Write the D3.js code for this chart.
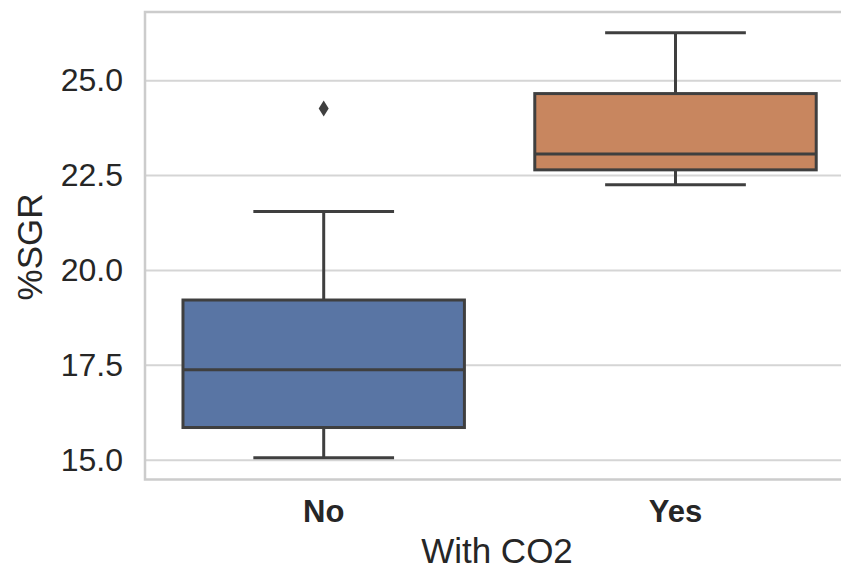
<!DOCTYPE html>
<html>
<head>
<meta charset="utf-8">
<script src="https://cdn.jsdelivr.net/npm/d3@7"></script>
<style>
  body { margin: 0; background: #fff; overflow: hidden; }
  svg { display: block; font-family: "Liberation Sans", Arial, sans-serif; }
</style>
</head>
<body>
<svg id="chart" width="841" height="570"></svg>
<script>
// values
const groups = ["No", "Yes"];
const whiskerLow = [15.06, 22.26];
const q1 = [15.86, 22.65];
const median = [17.38, 23.07];
const q3 = [19.22, 24.66];
const whiskerHigh = [21.55, 26.26];
const outliers = [[24.27], []];
const yTicks = [15.0, 17.5, 20.0, 22.5, 25.0];
const colors = ["#5975a4", "#c8865f"];

const svg = d3.select("#chart");
const plot = {left: 145, top: 12, bottom: 479.5, right: 851.4};
const edge = 841; // the figure is cut off here, right spine not visible

var x = d3.scaleBand().domain(groups).range([147.8, plot.right]).padding(0);
var y = d3.scaleLinear().domain([14.49, 26.81]).range([plot.bottom, plot.top]);

// gridlines
svg.append("g")
  .selectAll("line")
  .data(yTicks)
  .enter()
  .append("line")
    .attr("x1", plot.left).attr("x2", edge)
    .attr("y1", d => y(d)).attr("y2", d => y(d))
    .attr("stroke", "#d5d5d5").attr("stroke-width", 2);

// spines (left, top, bottom)
svg.append("path")
  .attr("d", `M${edge},${plot.top}H${plot.left}V${plot.bottom}H${edge}`)
  .attr("fill", "none").attr("stroke", "#cccccc").attr("stroke-width", 2.5);

// y axis tick labels
var yAxis = d3.axisLeft(y).tickValues(yTicks).tickFormat(d3.format(".1f")).tickSize(0).tickPadding(22);
var gy = svg.append("g").attr("transform", `translate(${plot.left},0)`).call(yAxis);
gy.select(".domain").remove();
gy.selectAll("text").attr("font-size", 32).attr("fill", "#262626")
  .attr("font-family", "Liberation Sans, Arial, sans-serif");

// x axis tick labels
var xAxis = d3.axisBottom(x).tickSize(0).tickPadding(20);
var gx = svg.append("g").attr("transform", `translate(0,${plot.bottom})`).call(xAxis);
gx.select(".domain").remove();
gx.selectAll("text").attr("font-size", 31).attr("font-weight", "bold").attr("fill", "#262626")
  .attr("font-family", "Liberation Sans, Arial, sans-serif");

// axis labels
svg.append("text")
  .attr("x", 497).attr("y", 563)
  .attr("text-anchor", "middle").attr("font-size", 35).attr("fill", "#262626")
  .text("With CO2");
svg.append("text")
  .attr("transform", "translate(42,247) rotate(-90)")
  .attr("text-anchor", "middle").attr("font-size", 35).attr("fill", "#262626")
  .text("%SGR");

const lineColor = "#3f3f3f";
const bw = x.bandwidth() * 0.8;
const cx = d => x(d) + x.bandwidth() / 2;

var boxes = svg.append("g")
  .selectAll("g")
  .data(groups)
  .enter()
  .append("g");

// whiskers
boxes.append("line")
  .attr("x1", cx).attr("x2", cx)
  .attr("y1", (d, i) => y(whiskerLow[i])).attr("y2", (d, i) => y(q1[i]))
  .attr("stroke", lineColor).attr("stroke-width", 3);
boxes.append("line")
  .attr("x1", cx).attr("x2", cx)
  .attr("y1", (d, i) => y(q3[i])).attr("y2", (d, i) => y(whiskerHigh[i]))
  .attr("stroke", lineColor).attr("stroke-width", 3);

// caps
[whiskerLow, whiskerHigh].forEach(function(arr) {
  boxes.append("line")
    .attr("x1", d => cx(d) - bw / 4).attr("x2", d => cx(d) + bw / 4)
    .attr("y1", (d, i) => y(arr[i])).attr("y2", (d, i) => y(arr[i]))
    .attr("stroke", lineColor).attr("stroke-width", 3);
});

// boxes
boxes.append("rect")
  .attr("x", d => cx(d) - bw / 2)
  .attr("width", bw)
  .attr("y", (d, i) => y(q3[i]))
  .attr("height", (d, i) => y(q1[i]) - y(q3[i]))
  .attr("fill", (d, i) => colors[i])
  .attr("stroke", lineColor).attr("stroke-width", 3);

// medians
boxes.append("line")
  .attr("x1", d => cx(d) - bw / 2).attr("x2", d => cx(d) + bw / 2)
  .attr("y1", (d, i) => y(median[i])).attr("y2", (d, i) => y(median[i]))
  .attr("stroke", lineColor).attr("stroke-width", 3);

// outliers (thin diamonds)
boxes.each(function(d, i) {
  d3.select(this).selectAll("path.flier")
    .data(outliers[i])
    .enter()
    .append("path")
      .attr("class", "flier")
      .attr("d", "M0,-8L5,0L0,8L-5,0Z")
      .attr("transform", v => `translate(${cx(d)},${y(v)})`)
      .attr("fill", lineColor);
});
</script>
</body>
</html>
